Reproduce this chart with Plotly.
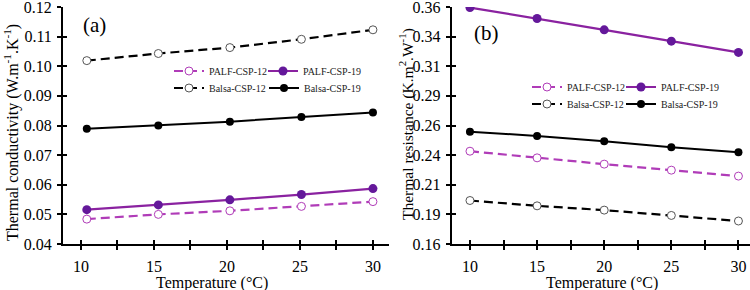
import plotly.graph_objects as go

# ---------------- data ----------------
temp_a = [10.4, 15.3, 20.2, 25.1, 30.0]
k_palf12 = [0.0484, 0.0500, 0.0512, 0.0527, 0.0543]
k_palf19 = [0.0516, 0.0532, 0.0549, 0.0567, 0.0587]
k_balsa12 = [0.1019, 0.1043, 0.1063, 0.1091, 0.1123]
k_balsa19 = [0.0789, 0.0800, 0.0813, 0.0829, 0.0844]

temp_b = [10, 15, 20, 25, 30]
r_palf12 = [0.2383, 0.2327, 0.2274, 0.2223, 0.2173]
r_palf19 = [0.3595, 0.3503, 0.3407, 0.3312, 0.3217]
r_balsa12 = [0.1967, 0.1922, 0.1886, 0.1841, 0.1794]
r_balsa19 = [0.2548, 0.2512, 0.2467, 0.2417, 0.2375]

x_tickvals = [10, 12.5, 15, 17.5, 20, 22.5, 25, 27.5, 30]
x_ticktext = ["10", "", "15", "", "20", "", "25", "", "30"]
ya_tickvals = [0.04, 0.05, 0.06, 0.07, 0.08, 0.09, 0.10, 0.11, 0.12]
ya_ticktext = ["0.04", "0.05", "0.06", "0.07", "0.08", "0.09", "0.10", "0.11", "0.12"]
yb_tickvals = [0.16, 0.185, 0.21, 0.235, 0.26, 0.285, 0.31, 0.335, 0.36]
yb_ticktext = ["0.16", "0.19", "0.21", "0.24", "0.26", "0.29", "0.31", "0.34", "0.36"]

names = ["PALF-CSP-12", "PALF-CSP-19", "Balsa-CSP-12", "Balsa-CSP-19"]

# ---------------- layout helpers ----------------
W, H = 750, 290
L, R, T, B = 63, 0, 7, 46
PW, PH = W - L - R, H - T - B
FONT = "Liberation Serif"


def px(x):
    return (x - L) / PW


def py(y):
    return (H - B - y) / PH


PURPLE = "#8a22a0"
PURPLE_M = "#64189a"
MAGENTA = "#b03cb8"
BLACK = "#000000"
GREY = "#555555"
DASH = "9px,5px"

styles = {
    "PALF-CSP-12": dict(line=dict(color=MAGENTA, width=2.2, dash=DASH),
                        marker=dict(symbol="circle", size=8, color="white",
                                    line=dict(color=MAGENTA, width=1))),
    "PALF-CSP-19": dict(line=dict(color=PURPLE, width=2.2),
                        marker=dict(symbol="circle", size=9, color=PURPLE_M,
                                    line=dict(color=PURPLE_M, width=0))),
    "Balsa-CSP-12": dict(line=dict(color=BLACK, width=2.2, dash=DASH),
                         marker=dict(symbol="circle", size=8, color="white",
                                     line=dict(color=GREY, width=1))),
    "Balsa-CSP-19": dict(line=dict(color=BLACK, width=2),
                         marker=dict(symbol="circle", size=8, color=BLACK,
                                     line=dict(color=BLACK, width=0))),
}

fig = go.Figure()

series_a = [k_palf12, k_palf19, k_balsa12, k_balsa19]
series_b = [r_palf12, r_palf19, r_balsa12, r_balsa19]

# legend text-start (px) and centre y (px) for each entry
leg_pos_a = [(211, 71), (305, 71), (211, 88), (306, 88)]
leg_pos_b = [(569, 87), (663, 87), (569, 104), (663, 104)]

legend_layout = {}
idx = 2
for name, ys in zip(names, series_a):
    fig.add_trace(go.Scatter(x=temp_a, y=ys, name=name, mode="lines+markers",
                             xaxis="x", yaxis="y", legend=f"legend{idx}",
                             **styles[name]))
    idx += 1
for name, ys in zip(names, series_b):
    fig.add_trace(go.Scatter(x=temp_b, y=ys, name=name, mode="lines+markers",
                             xaxis="x2", yaxis="y2", legend=f"legend{idx}",
                             **styles[name]))
    idx += 1

# empty traces for overlay axes (inside ticks -> crossing ticks)
fig.add_trace(go.Scatter(x=[], y=[], xaxis="x3", yaxis="y3", showlegend=False))
fig.add_trace(go.Scatter(x=[], y=[], xaxis="x4", yaxis="y4", showlegend=False))

for i, (tx, ty) in enumerate(leg_pos_a + leg_pos_b):
    key = f"legend{i + 2}"
    legend_layout[key] = dict(
        x=px(tx - 42), y=py(ty), xanchor="left", yanchor="middle",
        xref="paper", yref="paper", orientation="h",
        bgcolor="rgba(0,0,0,0)", borderwidth=0, itemwidth=30,
        font=dict(family=FONT, size=10, color="#222"),
        tracegroupgap=0,
    )

dom_a = [0, px(389)]
dom_b = [px(451.7), 1]
range_a = [8.77, 31.1]
range_b = [8.64, 30.86]

tickfont = dict(family=FONT, size=16, color="black")

xcommon = dict(showgrid=False, zeroline=False, showline=True, linecolor="black",
               linewidth=2, ticks="outside", ticklen=4, tickwidth=2, tickcolor="black",
               tickmode="array", tickvals=x_tickvals, ticktext=x_ticktext,
               tickfont=tickfont, ticklabelstandoff=3, ticklabeloverflow="allow")
ycommon = dict(showgrid=False, zeroline=False, showline=True, linecolor="black",
               linewidth=2, ticks="outside", ticklen=4, tickwidth=2, tickcolor="black",
               tickmode="array", tickfont=tickfont, ticklabelstandoff=2,
               ticklabeloverflow="allow")

over_x = dict(showgrid=False, zeroline=False, showline=False, ticks="inside",
              ticklen=4, tickwidth=2, tickcolor="black", tickmode="array",
              tickvals=x_tickvals, showticklabels=False)
over_y = dict(showgrid=False, zeroline=False, showline=False, ticks="inside",
              ticklen=4, tickwidth=2, tickcolor="black", tickmode="array",
              showticklabels=False)

fig.update_layout(
    width=W, height=H,
    margin=dict(l=L, r=R, t=T, b=B),
    paper_bgcolor="white", plot_bgcolor="white",
    font=dict(family=FONT, color="black"),
    showlegend=True,
    xaxis=dict(domain=dom_a, range=range_a, anchor="y", **xcommon),
    yaxis=dict(domain=[0, 1], range=[0.04, 0.12], anchor="x",
               tickvals=ya_tickvals, ticktext=ya_ticktext, **ycommon),
    xaxis2=dict(domain=dom_b, range=range_b, anchor="y2", **xcommon),
    yaxis2=dict(domain=[0, 1], range=[0.16, 0.36], anchor="x2",
                tickvals=yb_tickvals, ticktext=yb_ticktext, **ycommon),
    xaxis3=dict(overlaying="x", range=range_a, anchor="y3", **over_x),
    yaxis3=dict(overlaying="y", range=[0.04, 0.12], anchor="x3",
                tickvals=ya_tickvals, **over_y),
    xaxis4=dict(overlaying="x2", range=range_b, anchor="y4", **over_x),
    yaxis4=dict(overlaying="y2", range=[0.16, 0.36], anchor="x4",
                tickvals=yb_tickvals, **over_y),
    **legend_layout,
)

ann_font = dict(family=FONT, size=16, color="black")
fig.add_annotation(x=px(11), y=py(133), xref="paper", yref="paper",
                   text="Thermal conductivity (W.m<sup>-1</sup>.K<sup>-1</sup>)",
                   textangle=-90, showarrow=False, font=ann_font,
                   xanchor="center", yanchor="middle")
fig.add_annotation(x=px(407), y=py(124), xref="paper", yref="paper",
                   text="Thermal resistance (K.m<sup>2</sup>.W<sup>-1</sup>)",
                   textangle=-90, showarrow=False,
                   font=dict(family=FONT, size=15.5, color="black"),
                   xanchor="center", yanchor="middle")
fig.add_annotation(x=px(212), y=py(283), xref="paper", yref="paper",
                   text="Temperature (°C)", showarrow=False, font=ann_font,
                   xanchor="center", yanchor="middle")
fig.add_annotation(x=px(602), y=py(283), xref="paper", yref="paper",
                   text="Temperature (°C)", showarrow=False, font=ann_font,
                   xanchor="center", yanchor="middle")
fig.add_annotation(x=px(94), y=py(25), xref="paper", yref="paper",
                   text="(a)", showarrow=False,
                   font=dict(family=FONT, size=21, color="black"),
                   xanchor="center", yanchor="middle")
fig.add_annotation(x=px(486), y=py(33), xref="paper", yref="paper",
                   text="(b)", showarrow=False,
                   font=dict(family=FONT, size=21, color="black"),
                   xanchor="center", yanchor="middle")

fig.write_html("out.html")
